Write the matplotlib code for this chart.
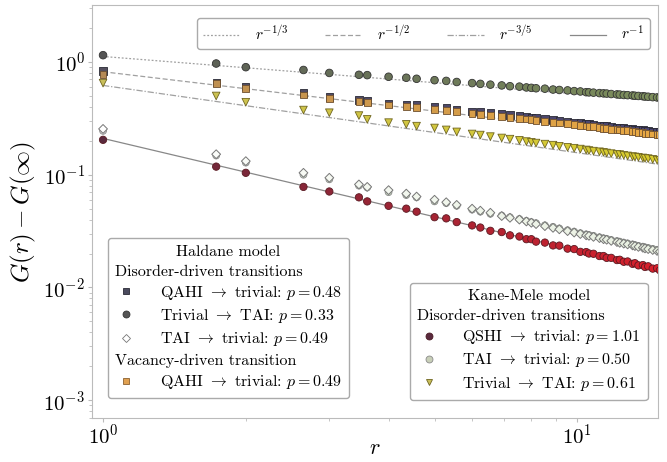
import numpy as np
import matplotlib
matplotlib.use("Agg")
import matplotlib.pyplot as plt
from matplotlib.lines import Line2D
from matplotlib.colors import LinearSegmentedColormap

plt.rcParams["font.family"] = "serif"
plt.rcParams["font.serif"] = ["cmr10", "DejaVu Serif"]
plt.rcParams["mathtext.fontset"] = "cm"
plt.rcParams["axes.formatter.use_mathtext"] = True

# distances on the lattice
r = [1.000, 1.732, 2.000, 2.646, 3.000, 3.464, 3.606, 4.000, 4.359, 4.583,
     5.000, 5.292, 5.568, 6.000, 6.245, 6.557, 6.928, 7.211, 7.550, 7.810,
     8.000, 8.185, 8.544, 8.888, 9.165, 9.539, 9.849, 10.149, 10.440, 10.583,
     10.817, 11.136, 11.358, 11.533, 11.790, 12.124, 12.288, 12.530, 12.767, 13.077,
     13.229, 13.454, 13.748, 13.892, 14.107, 14.422, 14.731, 14.933]

# Haldane, trivial -> TAI (top row)
hal_triv_tai = [1.15, 0.97, 0.90, 0.85, 0.80, 0.77, 0.765, 0.74, 0.725, 0.71,
                0.69, 0.68, 0.665, 0.65, 0.64, 0.63, 0.62, 0.61, 0.605, 0.595,
                0.59, 0.585, 0.58, 0.57, 0.565, 0.56, 0.552, 0.548, 0.54, 0.538,
                0.535, 0.53, 0.527, 0.525, 0.52, 0.516, 0.514, 0.51, 0.508, 0.505,
                0.502, 0.50, 0.497, 0.494, 0.492, 0.488, 0.485, 0.483]

# Haldane, QAHI -> trivial (disorder)
hal_qahi = [0.83, 0.66, 0.61, 0.53, 0.49, 0.46, 0.45, 0.43, 0.42, 0.415,
            0.40, 0.39, 0.38, 0.365, 0.36, 0.352, 0.345, 0.338, 0.332, 0.326,
            0.322, 0.318, 0.312, 0.306, 0.301, 0.296, 0.292, 0.288, 0.284, 0.282,
            0.279, 0.275, 0.272, 0.270, 0.267, 0.264, 0.262, 0.260, 0.258, 0.255,
            0.253, 0.251, 0.249, 0.247, 0.245, 0.243, 0.241, 0.239]

# Haldane, QAHI -> trivial (vacancies)
hal_vac = [0.78, 0.64, 0.58, 0.51, 0.475, 0.445, 0.435, 0.415, 0.40, 0.395,
           0.38, 0.372, 0.364, 0.35, 0.344, 0.337, 0.33, 0.324, 0.317, 0.312,
           0.308, 0.304, 0.298, 0.292, 0.288, 0.283, 0.279, 0.275, 0.271, 0.269,
           0.266, 0.262, 0.259, 0.257, 0.254, 0.251, 0.249, 0.247, 0.245, 0.242,
           0.240, 0.238, 0.236, 0.234, 0.232, 0.230, 0.228, 0.226]

# Kane-Mele, trivial -> TAI
km_triv_tai = [0.65, 0.50, 0.44, 0.375, 0.355, 0.335, 0.31, 0.29, 0.28, 0.27,
               0.26, 0.25, 0.24, 0.23, 0.225, 0.218, 0.212, 0.207, 0.202, 0.197,
               0.194, 0.191, 0.187, 0.183, 0.179, 0.175, 0.172, 0.169, 0.166, 0.164,
               0.162, 0.160, 0.158, 0.156, 0.154, 0.152, 0.151, 0.149, 0.147, 0.145,
               0.144, 0.143, 0.141, 0.140, 0.139, 0.137, 0.135, 0.134]

# Haldane, TAI -> trivial
hal_tai_triv = [0.255, 0.152, 0.132, 0.104, 0.094, 0.082, 0.078, 0.073, 0.068, 0.064,
                0.060, 0.057, 0.054, 0.050, 0.048, 0.046, 0.043, 0.0415, 0.040, 0.0385,
                0.0375, 0.0365, 0.035, 0.0338, 0.0328, 0.0316, 0.0307, 0.0298, 0.0290, 0.0287,
                0.0281, 0.0274, 0.0268, 0.0265, 0.0259, 0.0253, 0.0249, 0.0245, 0.0241, 0.0236,
                0.0233, 0.0229, 0.0225, 0.0222, 0.0219, 0.0215, 0.0211, 0.0208]

# Kane-Mele, TAI -> trivial
km_tai_triv = [0.245, 0.148, 0.128, 0.100, 0.091, 0.080, 0.077, 0.070, 0.066, 0.063,
               0.058, 0.056, 0.053, 0.049, 0.047, 0.045, 0.0435, 0.042, 0.0405, 0.0390,
               0.0380, 0.0372, 0.0356, 0.0345, 0.0334, 0.0322, 0.0313, 0.0303, 0.0296, 0.0292,
               0.0287, 0.0279, 0.0273, 0.0270, 0.0264, 0.0258, 0.0255, 0.0250, 0.0246, 0.0241,
               0.0238, 0.0234, 0.0230, 0.0227, 0.0224, 0.0220, 0.0216, 0.0213]

# Kane-Mele, QSHI -> trivial
km_qshi = [0.204, 0.118, 0.104, 0.078, 0.071, 0.063, 0.058, 0.053, 0.050, 0.047,
           0.042, 0.041, 0.038, 0.0355, 0.034, 0.0318, 0.031, 0.0290, 0.0283, 0.0268,
           0.0268, 0.0255, 0.0250, 0.0236, 0.0235, 0.0221, 0.0219, 0.0207, 0.0206, 0.0200,
           0.0199, 0.0190, 0.0190, 0.0183, 0.0183, 0.0175, 0.0176, 0.0169, 0.0170, 0.0162,
           0.0164, 0.0157, 0.0158, 0.0152, 0.0154, 0.0147, 0.0148, 0.0142]

# power-law guide lines (endpoints)
fit_r = [1.0, 15.0]
fit_third = [1.12, 0.455]
fit_half = [0.82, 0.212]
fit_threefifth = [0.62, 0.123]
fit_one = [0.21, 0.0142]

fig = plt.figure(figsize=(6.67, 4.62), dpi=100)
ax = fig.add_axes([0.138, 0.095, 0.849, 0.894])
ax.set_xscale("log")
ax.set_yscale("log")

guide = "#a0a0a0"
l1, = ax.plot(fit_r, fit_third, ls=(0, (1.5, 1.5)), color=guide, lw=0.9, zorder=1)
l2, = ax.plot(fit_r, fit_half, ls=(0, (4, 2)), color=guide, lw=0.9, zorder=1)
l3, = ax.plot(fit_r, fit_threefifth, ls=(0, (5, 1.5, 1, 1.5)), color=guide, lw=0.9, zorder=1)
l4, = ax.plot(fit_r, fit_one, ls="-", color="#888888", lw=0.9, zorder=1)

logr = np.log10(r)


def cmap2(c1, c2):
    return LinearSegmentedColormap.from_list("", [c1, c2])


ax.scatter(r, hal_triv_tai, c=logr, cmap=cmap2("#555555", "#7d8f5c"), marker="o",
           s=30, edgecolors="#333333", linewidths=0.6, zorder=3)
ax.scatter(r, hal_qahi, c=logr, cmap=cmap2("#55505e", "#4a4470"), marker="s",
           s=28, edgecolors="#2a2a35", linewidths=0.6, zorder=3)
ax.scatter(r, hal_vac, c=logr, cmap=cmap2("#b58a55", "#e8a843"), marker="s",
           s=24, edgecolors="#6e5030", linewidths=0.6, zorder=4)
ax.scatter(r, km_triv_tai, c=logr, cmap=cmap2("#c9bf5a", "#d8cc2c"), marker="v",
           s=30, edgecolors="#6f6520", linewidths=0.6, zorder=3)
ax.scatter(r, km_qshi, c=logr, cmap=cmap2("#5a2a3e", "#d8202c"), marker="o",
           s=28, edgecolors="#5a1a22", linewidths=0.6, zorder=3)
ax.scatter(r, km_tai_triv, c=logr, cmap=cmap2("#d8d8d8", "#b8d8a8"), marker="o",
           s=24, edgecolors="#8a8a8a", linewidths=0.6, zorder=4)
ax.scatter(r, hal_tai_triv, c=logr, cmap=cmap2("#ffffff", "#e8f0e0"), marker="D",
           s=20, edgecolors="#777777", linewidths=0.7, zorder=5)

ax.set_xlim(0.948, 14.82)
ax.set_ylim(6.93e-4, 3.2)
ax.set_xlabel(r"$r$", fontsize=16, va="center")
ax.xaxis.set_label_coords(0.5, -0.072)
ax.set_ylabel(r"$G(r) - G(\infty)$", fontsize=18, labelpad=4)
ax.tick_params(which="major", length=3, pad=2)
ax.tick_params(axis="x", which="major", pad=0.5)
ax.tick_params(which="both", labelsize=15, color="#bbbbbb")
ax.tick_params(which="minor", length=2, labelbottom=False, labelleft=False)
for s in ax.spines.values():
    s.set_color("#bbbbbb")

frame = dict(frameon=True, fancybox=True, edgecolor="#aaaaaa", framealpha=1)

top = ax.legend([l1, l2, l3, l4],
                [r"$r^{-1/3}$", r"$r^{-1/2}$", r"$r^{-3/5}$", r"$r^{-1}$"],
                ncol=4, loc="upper right", bbox_to_anchor=(0.986, 0.968),
                borderaxespad=0, fontsize=11, handlelength=2.4,
                columnspacing=2.4, handletextpad=1.0, borderpad=0.4, **frame)
ax.add_artist(top)


def mk(marker, face, edge, ms=5):
    return Line2D([], [], ls="none", marker=marker, markersize=ms,
                  markerfacecolor=face, markeredgecolor=edge, markeredgewidth=0.6)


blank = Line2D([], [], ls="none")


def left_headers(leg, headers):
    for col in leg._legend_handle_box.get_children():
        for row in col.get_children():
            da, ta = row.get_children()
            if ta.get_children()[0].get_text() in headers:
                da.width = 0
                row.sep = 0


hal_h = [blank, mk("s", "#4b4b5e", "#2a2a35"), mk("o", "#555555", "#333333"),
         mk("D", "white", "#777777", 4), blank, mk("s", "#e0a050", "#8a6030")]
hal_l = ["Disorder-driven transitions",
         r"QAHI $\rightarrow$ trivial: $p = 0.48$",
         r"Trivial $\rightarrow$ TAI: $p = 0.33$",
         r"TAI $\rightarrow$ trivial: $p = 0.49$",
         "Vacancy-driven transition",
         r"QAHI $\rightarrow$ trivial: $p = 0.49$"]
leg1 = ax.legend(hal_h, hal_l, title="Haldane model", loc="lower left",
                 bbox_to_anchor=(0.028, 0.048), borderaxespad=0, fontsize=11.5,
                 title_fontsize=11.5, handlelength=1.4, handletextpad=1.4,
                 labelspacing=0.33, borderpad=0.45, **frame)
left_headers(leg1, [hal_l[0], hal_l[4]])
ax.add_artist(leg1)

km_h = [blank, mk("o", "#5a2a3e", "#4a1a22"), mk("o", "#c8cfb8", "#8a8a8a"),
        mk("v", "#c9bf5a", "#6f6520")]
km_l = ["Disorder-driven transitions",
        r"QSHI $\rightarrow$ trivial: $p = 1.01$",
        r"TAI $\rightarrow$ trivial: $p = 0.50$",
        r"Trivial $\rightarrow$ TAI: $p = 0.61$"]
leg2 = ax.legend(km_h, km_l, title="Kane-Mele model", loc="lower right",
                 bbox_to_anchor=(0.981, 0.044), borderaxespad=0, fontsize=11.5,
                 title_fontsize=11.5, handlelength=1.4, handletextpad=1.4,
                 labelspacing=0.33, borderpad=0.45, **frame)
left_headers(leg2, [km_l[0]])

fig.savefig("out.png", dpi=100)
